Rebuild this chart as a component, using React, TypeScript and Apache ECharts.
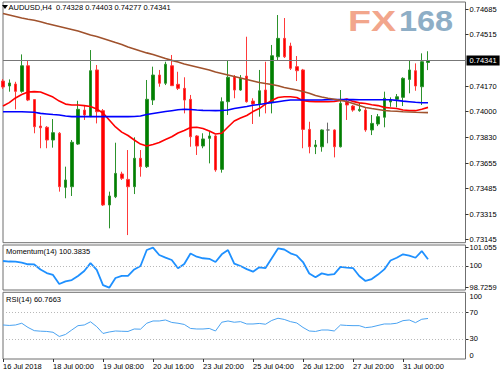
import React, { useEffect, useRef } from 'react';
import * as echarts from 'echarts';

// ---- Data (AUDUSD H4) ----
const xTickLabels = ['16 Jul 2018', '18 Jul 00:00', '19 Jul 08:00', '20 Jul 16:00', '23 Jul 20:00', '25 Jul 04:00', '26 Jul 12:00', '27 Jul 20:00', '31 Jul 00:00'];

const opens = [0.74204,0.74171,0.74184,0.74135,0.74306,0.74080,0.73903,0.73895,0.73810,0.73855,
0.73494,0.73498,0.73783,0.74010,0.73966,0.74278,0.74006,0.73376,0.73431,0.73583,
0.73547,0.73498,0.73688,0.73632,0.74077,0.74244,0.74189,0.74306,0.74182,0.74155,
0.74082,0.73837,0.73770,0.73821,0.73837,0.73614,0.74066,0.74233,0.74144,0.74237,
0.74070,0.74050,0.74144,0.74066,0.74366,0.74489,0.74438,0.74300,0.74278,0.73881,
0.73765,0.73765,0.73877,0.73877,0.73765,0.74066,0.74037,0.74006,0.74010,0.73877,
0.73917,0.73962,0.74064,0.74082,0.74095,0.74215,0.74273,0.74166,0.74328];
const highs = [0.74217,0.74215,0.74199,0.74382,0.74338,0.74082,0.73970,0.73903,0.73950,0.73863,
0.73632,0.73810,0.74072,0.74037,0.74411,0.74311,0.74017,0.73465,0.73792,0.73598,
0.73743,0.73828,0.73743,0.74211,0.74300,0.74278,0.74333,0.74378,0.74266,0.74229,
0.74111,0.73843,0.73855,0.73865,0.73843,0.74095,0.74344,0.74244,0.74244,0.74500,
0.74089,0.74278,0.74333,0.74445,0.74645,0.74625,0.74460,0.74371,0.74285,0.73932,
0.73810,0.73881,0.73926,0.73881,0.74144,0.74077,0.74044,0.74057,0.74028,0.73977,
0.73984,0.74133,0.74095,0.74117,0.74229,0.74340,0.74322,0.74389,0.74403];
const lows = [0.74151,0.74133,0.74015,0.74126,0.74070,0.73855,0.73755,0.73755,0.73759,0.73465,
0.73421,0.73436,0.73777,0.73944,0.73964,0.73921,0.73369,0.73220,0.73422,0.73543,
0.73175,0.73449,0.73565,0.73623,0.74044,0.74166,0.74177,0.74171,0.74144,0.73988,
0.73765,0.73710,0.73755,0.73654,0.73598,0.73592,0.73977,0.74089,0.74139,0.74060,
0.73917,0.73966,0.73988,0.73988,0.74344,0.74358,0.74278,0.74204,0.73755,0.73721,
0.73716,0.73732,0.73788,0.73694,0.73760,0.73944,0.73999,0.73999,0.73865,0.73843,
0.73903,0.73895,0.74032,0.74028,0.74037,0.74122,0.74139,0.74044,0.74277];
const closes = [0.74164,0.74191,0.74135,0.74306,0.74077,0.73899,0.73892,0.73810,0.73859,0.73498,
0.73543,0.73795,0.74015,0.73977,0.74273,0.73999,0.73376,0.73436,0.73587,0.73554,
0.73498,0.73688,0.73632,0.74082,0.74244,0.74189,0.74316,0.74173,0.74155,0.74077,
0.73832,0.73770,0.73817,0.73837,0.73610,0.74066,0.74229,0.74144,0.74222,0.74066,
0.74050,0.74139,0.74055,0.74373,0.74489,0.74366,0.74289,0.74273,0.73881,0.73765,
0.73777,0.73877,0.73877,0.73765,0.74055,0.74044,0.74010,0.74015,0.73877,0.73921,
0.73966,0.74089,0.74077,0.74099,0.74222,0.74278,0.74171,0.74333,0.74341];

const maRed = [0.74037,0.74060,0.74091,0.74114,0.74131,0.74133,0.74131,0.74114,0.74097,0.74070,
0.74050,0.74044,0.74044,0.74040,0.74034,0.74017,0.73990,0.73944,0.73897,0.73863,
0.73840,0.73810,0.73783,0.73770,0.73780,0.73793,0.73813,0.73832,0.73857,0.73873,
0.73893,0.73895,0.73887,0.73870,0.73850,0.73855,0.73897,0.73937,0.73957,0.73974,
0.74000,0.74020,0.74050,0.74074,0.74094,0.74099,0.74099,0.74094,0.74072,0.74068,
0.74066,0.74066,0.74066,0.74067,0.74074,0.74084,0.74068,0.74058,0.74054,0.74046,
0.74040,0.74028,0.74024,0.74020,0.74010,0.74007,0.74006,0.74015,0.74028];
const maBlue = [0.73999,0.73999,0.73999,0.73999,0.73997,0.73995,0.73988,0.73984,0.73980,0.73977,
0.73970,0.73966,0.73966,0.73966,0.73966,0.73966,0.73966,0.73966,0.73966,0.73966,
0.73966,0.73967,0.73970,0.73980,0.73987,0.73994,0.74000,0.74006,0.74012,0.74015,
0.74014,0.74010,0.74008,0.74007,0.74006,0.74007,0.74010,0.74020,0.74027,0.74034,
0.74042,0.74047,0.74054,0.74060,0.74066,0.74072,0.74077,0.74077,0.74077,0.74077,
0.74077,0.74077,0.74080,0.74080,0.74080,0.74080,0.74080,0.74079,0.74079,0.74079,
0.74079,0.74079,0.74079,0.74075,0.74070,0.74066,0.74062,0.74059,0.74059];
const maBrown = [0.74655,0.74645,0.74635,0.74625,0.74617,0.74610,0.74600,0.74588,0.74578,0.74568,
0.74558,0.74548,0.74538,0.74525,0.74511,0.74501,0.74488,0.74475,0.74461,0.74448,
0.74431,0.74418,0.74404,0.74392,0.74381,0.74368,0.74354,0.74342,0.74331,0.74318,
0.74308,0.74298,0.74288,0.74278,0.74264,0.74254,0.74244,0.74234,0.74224,0.74214,
0.74204,0.74194,0.74187,0.74181,0.74172,0.74161,0.74153,0.74144,0.74134,0.74122,
0.74107,0.74097,0.74089,0.74082,0.74075,0.74067,0.74054,0.74040,0.74027,0.74020,
0.74014,0.74007,0.74004,0.74002,0.73999,0.73997,0.73995,0.73994,0.73993];

const momentum = [100.28,100.25,100.24,100.19,100.09,100.08,99.79,99.58,99.47,98.94,
99.09,99.17,99.41,99.70,100.16,99.76,98.88,98.7259,99.29,99.42,
99.42,99.79,99.99,100.92,101.055,100.63,100.48,100.34,99.86,100.11,
100.72,100.53,100.44,100.41,100.22,100.67,100.92,100.13,99.99,99.81,
99.66,99.91,99.87,100.44,101.01,100.95,100.73,100.60,100.22,99.55,
99.33,99.56,99.47,99.52,99.94,99.89,99.87,99.41,99.12,99.23,
99.49,99.79,100.31,100.47,100.67,100.59,100.47,100.86,100.3835];
const rsi = [51.0,50.3,51.0,53.6,47.3,42.5,41.7,41.3,40.1,33.8,
36.8,43.5,50.0,51.0,55.8,48.5,38.3,40.5,42.0,41.6,
41.3,45.0,44.7,53.6,57.0,57.0,58.5,54.8,53.6,51.8,
45.8,45.0,45.0,45.8,42.0,55.1,57.0,55.1,56.0,52.5,
52.5,53.3,52.1,57.8,61.1,59.3,56.0,54.0,47.3,42.0,
41.3,43.5,43.5,42.0,51.0,50.3,50.0,50.0,47.0,48.0,
50.3,52.5,52.5,53.6,57.5,58.5,54.5,59.6,60.7663];

const priceTicks = [0.73145, 0.73315, 0.73485, 0.73655, 0.7383, 0.74, 0.7417, 0.74515, 0.74685];
const momTicks = [98.7259, 100, 101.055];
const lastPrice = 0.74341;
const SLOT_COUNT = 75;

const FONT = '"Liberation Sans", Arial, sans-serif';
const FS = 7.5;
const BORDER = '#6f6f6f';

export default function App() {
  const ref = useRef<HTMLDivElement>(null);
  useEffect(() => {
    const chart = echarts.init(ref.current!, null, { renderer: 'svg' });
    const slots = Array.from({ length: SLOT_COUNT }, (_, i) => String(i));
    const candleData = opens.map((o, i) => {
      const v = [o, closes[i], lows[i], highs[i]];
      if (o === closes[i]) {
        return { value: v, itemStyle: { color: '#4d4d4d', color0: '#4d4d4d', borderColor: '#6a6a6a', borderColor0: '#6a6a6a' } };
      }
      return v;
    });
    const showTick = (i: number) => i % 8 === 0 && i / 8 < xTickLabels.length;
    const gridBase = { left: 3, width: 462.5, show: true, borderColor: BORDER, borderWidth: 1, backgroundColor: 'transparent' };
    const hiddenX = (g: number) => ({
      type: 'category', gridIndex: g, data: slots, boundaryGap: false,
      axisLine: { show: false }, axisTick: { show: false }, axisLabel: { show: false }, splitLine: { show: false },
    });
    const label = { fontSize: FS, color: '#000', fontFamily: FONT, margin: 4 };
    const tick = { show: true, length: 3, lineStyle: { color: '#333' } };
    const levelLine = (vals: number[]) => ({
      symbol: ['none', 'none'], silent: true, precision: 5,
      label: { show: false },
      lineStyle: { color: '#b8b8b8', type: [1, 2], width: 1 },
      data: vals.map((v) => ({ yAxis: v })),
    });

    const option: any = {
      animation: false,
      backgroundColor: '#ffffff',
      grid: [
        { ...gridBase, top: 2, height: 240.7 },
        { ...gridBase, top: 245, height: 45 },
        { ...gridBase, top: 292.3, height: 66.7 },
      ],
      xAxis: [
        hiddenX(0),
        hiddenX(1),
        {
          type: 'category', gridIndex: 2, data: slots, boundaryGap: false,
          axisLine: { show: false },
          axisTick: { show: true, length: 3, interval: (i: number) => showTick(i), lineStyle: { color: '#333' } },
          axisLabel: {
            ...label, margin: 3, align: 'left',
            interval: (i: number) => showTick(i),
            formatter: (_v: string, i: number) => (showTick(i) ? xTickLabels[i / 8] : ''),
          },
          splitLine: { show: false },
        },
      ],
      yAxis: [
        {
          type: 'value', gridIndex: 0, position: 'right', min: 0.73124, max: 0.74732,
          axisLine: { show: false }, splitLine: { show: false },
          axisTick: { ...tick, customValues: priceTicks },
          axisLabel: { ...label, customValues: priceTicks, formatter: (v: number) => v.toFixed(5) },
        },
        {
          type: 'value', gridIndex: 1, position: 'right', min: 98.592, max: 101.212,
          axisLine: { show: false }, splitLine: { show: false },
          axisTick: { ...tick, customValues: momTicks },
          axisLabel: { ...label, customValues: momTicks, formatter: (v: number) => String(v) },
        },
        {
          type: 'value', gridIndex: 2, position: 'right', min: 0, max: 100,
          axisLine: { show: false }, splitLine: { show: false },
          axisTick: { ...tick, customValues: [30, 70] },
          axisLabel: { ...label, customValues: [30, 70], formatter: (v: number) => String(v) },
        },
        {
          type: 'value', gridIndex: 2, position: 'right', min: 0, max: 100,
          axisLine: { show: false }, splitLine: { show: false },
          axisTick: { show: false },
          axisLabel: { ...label, customValues: [100], verticalAlign: 'top', formatter: (v: number) => String(v) },
        },
        {
          type: 'value', gridIndex: 2, position: 'right', min: 0, max: 100,
          axisLine: { show: false }, splitLine: { show: false },
          axisTick: { show: false },
          axisLabel: { ...label, customValues: [0], verticalAlign: 'bottom', formatter: (v: number) => String(v) },
        },
      ],
      series: [
        {
          type: 'candlestick', xAxisIndex: 0, yAxisIndex: 0, barWidth: 3,
          data: candleData,
          itemStyle: { color: '#008000', color0: '#ff0000', borderColor: '#2c922c', borderColor0: '#ff3a3a', borderWidth: 1 },
        },
        {
          type: 'line', xAxisIndex: 0, yAxisIndex: 0, data: maRed, showSymbol: false, lineStyle: { color: '#ff0000', width: 1.6 }, itemStyle: { color: '#ff0000' },
          markLine: {
            symbol: ['none', 'none'], silent: true, precision: 5,
            lineStyle: { color: '#777777', type: 'solid', width: 1 },
            label: {
              show: true, position: 'end', distance: 1, formatter: lastPrice.toFixed(5),
              backgroundColor: '#000', color: '#fff', padding: [1, 3, 1, 3], fontSize: FS, fontFamily: FONT,
            },
            data: [{ yAxis: lastPrice }],
          },
        },
        { type: 'line', xAxisIndex: 0, yAxisIndex: 0, data: maBlue, showSymbol: false, lineStyle: { color: '#0000ff', width: 1.6 }, itemStyle: { color: '#0000ff' } },
        { type: 'line', xAxisIndex: 0, yAxisIndex: 0, data: maBrown, showSymbol: false, lineStyle: { color: '#a0522d', width: 1.6 }, itemStyle: { color: '#a0522d' } },
        {
          type: 'line', xAxisIndex: 1, yAxisIndex: 1, data: momentum, showSymbol: false,
          lineStyle: { color: '#1e90ff', width: 1.8 }, itemStyle: { color: '#1e90ff' },
          markLine: levelLine([100]),
        },
        {
          type: 'line', xAxisIndex: 2, yAxisIndex: 2, data: rsi, showSymbol: false,
          lineStyle: { color: '#4aa3f2', width: 1 }, itemStyle: { color: '#4aa3f2' },
          markLine: levelLine([70, 30]),
        },
      ],
      graphic: [
        { type: 'polygon', shape: { points: [[2, 5], [8, 5], [5, 9]] }, style: { fill: '#000' } },
        { type: 'text', x: 8.5, y: 7.5, style: { text: 'AUDUSD,H4  0.74328 0.74403 0.74277 0.74341', fontSize: FS, fontFamily: FONT, fill: '#000', align: 'left', verticalAlign: 'middle' } },
        { type: 'text', x: 6, y: 251, style: { text: 'Momentum(14) 100.3835', fontSize: FS, fontFamily: FONT, fill: '#000', align: 'left', verticalAlign: 'middle' } },
        { type: 'text', x: 6, y: 299.3, style: { text: 'RSI(14) 60.7663', fontSize: FS, fontFamily: FONT, fill: '#000', align: 'left', verticalAlign: 'middle' } },
        { type: 'text', x: 348, y: 21, scaleX: 1.3, style: { text: 'FX', fontSize: 29, fontWeight: 'bold', fontFamily: FONT, fill: '#f2a68c', align: 'left', verticalAlign: 'middle' } },
        { type: 'text', x: 399, y: 21, scaleX: 1.12, style: { text: '168', fontSize: 29, fontWeight: 'bold', fontFamily: FONT, fill: '#8eaec6', align: 'left', verticalAlign: 'middle' } },
      ],
    };
    chart.setOption(option);
    return () => chart.dispose();
  }, []);
  return <div ref={ref} style={{ position: 'absolute', left: 0, top: 0, width: 500, height: 375, background: '#fff' }} />;
}
